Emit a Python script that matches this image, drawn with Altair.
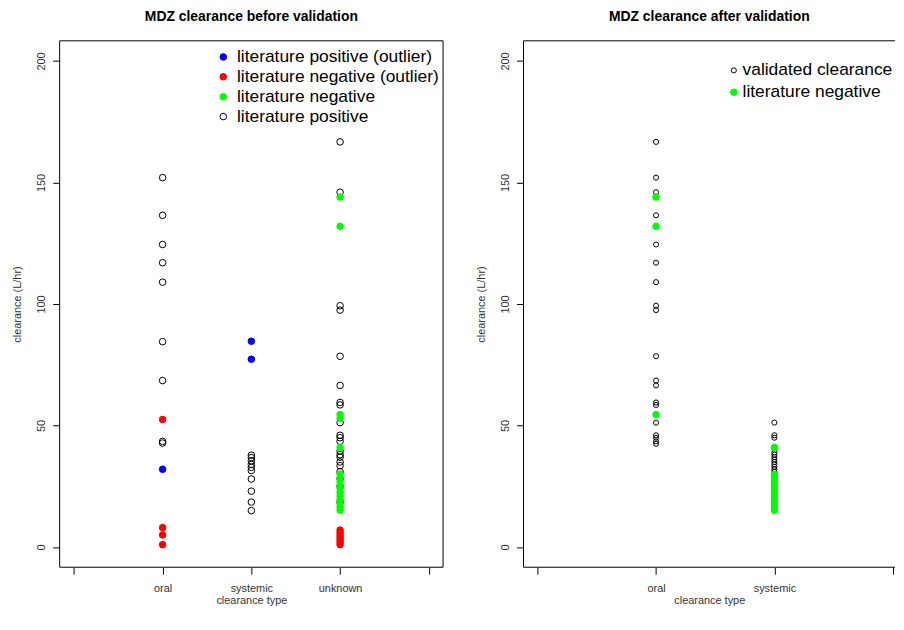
import altair as alt
import pandas as pd

FONT = "Liberation Sans"

# ---------------- data ----------------
left_categories = ["oral", "systemic", "unknown"]
right_categories = ["oral", "systemic"]

left_groups = ["literature positive (outlier)", "literature negative (outlier)",
               "literature negative", "literature positive"]
left_stroke = ["#0000FF", "#FF0000", "#00FF00", "#000000"]
left_fill = ["#0000FF", "#FF0000", "#00FF00", "transparent"]
left_size = [44, 44, 44, 26]

right_groups = ["validated clearance", "literature negative"]
right_stroke = ["#000000", "#00FF00"]
right_fill = ["transparent", "#00FF00"]
right_size = [26, 44]

# left panel (before validation)
left_oral_pos = [152, 136.5, 124.5, 117, 109, 84.5, 68.5, 43.5, 42.8]
left_oral_neg_out = [52.5, 8, 5, 1]
left_oral_pos_out = [32]
left_sys_pos_out = [84.7, 77.3]
left_sys_pos = [37.8, 36.8, 35.5, 34, 32.8, 31.5, 28, 23, 18.5, 15]
left_unk_pos = [166.7, 146, 99.3, 97.5, 78.5, 66.5, 59.5, 58.5, 51.2, 46, 45,
                43.5, 39.5, 38, 37, 35, 33.5, 31, 28.2, 25, 18.5]
left_unk_neg = [144, 132, 54.5, 53, 41, 30, 28.5, 27, 25.5, 24, 22.5, 21,
                19.5, 18, 16.5, 15.2]
left_unk_neg_out = [7, 6, 5, 4, 3, 2, 1]

# right panel (after validation)
right_oral_valid = [166.7, 152, 146, 136.5, 124.5, 117, 109, 99.3, 97.5, 78.5,
                    68.5, 66.5, 59.5, 58.5, 51.2, 46, 45, 43.5, 42.5]
right_oral_neg = [144, 132, 54.5]
right_sys_valid = [51.2, 46, 45, 40.5, 39, 38, 37, 36, 35, 34, 33, 32, 31,
                   29.5, 28, 25, 23, 18.5]
right_sys_neg = [41, 30, 28.5, 27, 25.5, 24, 22.5, 21, 19.5, 18, 16.5, 15.2]

y_ticks = [0, 50, 100, 150, 200]


def rows(cat_list, cat, group, values):
    pos = cat_list.index(cat) + 1
    return [{"pos": pos, "clearance": v, "group": group} for v in values]


left_rows = (
    rows(left_categories, "oral", left_groups[3], left_oral_pos)
    + rows(left_categories, "systemic", left_groups[3], left_sys_pos)
    + rows(left_categories, "unknown", left_groups[3], left_unk_pos)
    + rows(left_categories, "unknown", left_groups[2], left_unk_neg)
    + rows(left_categories, "oral", left_groups[1], left_oral_neg_out)
    + rows(left_categories, "unknown", left_groups[1], left_unk_neg_out)
    + rows(left_categories, "oral", left_groups[0], left_oral_pos_out)
    + rows(left_categories, "systemic", left_groups[0], left_sys_pos_out)
)
right_rows = (
    rows(right_categories, "oral", right_groups[0], right_oral_valid)
    + rows(right_categories, "systemic", right_groups[0], right_sys_valid)
    + rows(right_categories, "oral", right_groups[1], right_oral_neg)
    + rows(right_categories, "systemic", right_groups[1], right_sys_neg)
)
left_df = pd.DataFrame(left_rows)
right_df = pd.DataFrame(right_rows)

H = 530
W_LEFT = 386
PX_PER_UNIT_R = 386 / 3.24    # right panel scale (0..3 with 4% extension)
W_RIGHT = 374                 # right panel is cut by the page edge
Y_DOMAIN = [-8.3, 208.3]


def axes(n, cats, x_domain):
    label_expr = " : ".join(
        [f"datum.value == {i + 1} ? '{c}'" for i, c in enumerate(cats)]
    ) + " : ''"
    x = alt.X("pos:Q", scale=alt.Scale(domain=x_domain, nice=False, zero=False),
              axis=alt.Axis(values=list(range(n + 1)), labelExpr=label_expr,
                            title="clearance type", grid=False, domain=False,
                            tickColor="#000000", tickSize=7, labelPadding=8,
                            titleY=34, titleBaseline="middle",
                            labelFontSize=11, titleFontSize=11,
                            labelFont=FONT, titleFont=FONT, titleFontWeight="normal",
                            labelColor="#333333", titleColor="#333333"))
    y = alt.Y("clearance:Q", scale=alt.Scale(domain=Y_DOMAIN, nice=False, zero=False),
              axis=alt.Axis(values=y_ticks, title="clearance (L/hr)", grid=False,
                            domain=False, tickColor="#000000", tickSize=7,
                            labelAngle=270, labelAlign="center", labelBaseline="middle",
                            labelPadding=11, titleX=-42, titleY=H / 2,
                            titleAngle=270, titleAlign="center", titleBaseline="middle",
                            labelFontSize=11, titleFontSize=11, labelFont=FONT,
                            titleFont=FONT, titleFontWeight="normal",
                            labelColor="#333333", titleColor="#333333"))
    return x, y


def points(df, cats, groups, strokes, fills, sizes, x_domain, legend_x, legend_y,
           label_offset, row_padding):
    n = len(cats) + 1
    x, y = axes(n, cats, x_domain)
    legend = alt.Legend(
        title=None, orient="none", legendX=legend_x, legendY=legend_y,
        labelFontSize=17.5, labelFont=FONT, labelColor="#000000",
        symbolType="circle", symbolStrokeWidth=1, labelOffset=label_offset,
        rowPadding=row_padding, padding=0, labelLimit=400,
    )
    return alt.Chart(df).mark_point(shape="circle", strokeWidth=1, opacity=1).encode(
        x=x, y=y,
        stroke=alt.Stroke("group:N", scale=alt.Scale(domain=groups, range=strokes), legend=legend),
        fill=alt.Fill("group:N", scale=alt.Scale(domain=groups, range=fills), legend=legend),
        size=alt.Size("group:N", scale=alt.Scale(domain=groups, range=sizes), legend=legend),
    )


def frame_layers(x_domain, right_side):
    # plot box drawn from the scale domains (top, bottom, left, optionally right)
    h_df = pd.DataFrame({
        "x1": [x_domain[0], x_domain[0]],
        "x2": [x_domain[1], x_domain[1]],
        "y1": [Y_DOMAIN[1], Y_DOMAIN[0]],
    })
    v_x = [x_domain[0], x_domain[1]] if right_side else [x_domain[0]]
    v_df = pd.DataFrame({
        "x1": v_x,
        "y1": [Y_DOMAIN[0]] * len(v_x),
        "y2": [Y_DOMAIN[1]] * len(v_x),
    })
    h = alt.Chart(h_df).mark_rule(color="#000000", strokeWidth=1).encode(
        x="x1:Q", x2="x2:Q", y="y1:Q")
    v = alt.Chart(v_df).mark_rule(color="#000000", strokeWidth=1).encode(
        x="x1:Q", y="y1:Q", y2="y2:Q")
    return [h, v]


def title(text):
    return alt.TitleParams(text, fontSize=14, fontWeight="bold", font=FONT,
                           anchor="middle", frame="group", offset=16, color="#000000")


# left panel: full box
left_xdom = [-0.16, 4.16]
left_pts = points(left_df, left_categories, left_groups, left_stroke, left_fill, left_size,
                  left_xdom, 156, 7.5, 5, 1)
left = alt.layer(left_pts, *frame_layers(left_xdom, True)).properties(
    width=W_LEFT, height=H, title=title("MDZ clearance before validation"))

# right panel: box whose right side lies beyond the page edge
right_xdom = [-0.12, -0.12 + W_RIGHT / PX_PER_UNIT_R]
right_pts = points(right_df, right_categories, right_groups, right_stroke, right_fill,
                   right_size, right_xdom, 203, 21, 0, 3)
right = alt.layer(right_pts, *frame_layers(right_xdom, False)).properties(
    width=W_RIGHT, height=H, title=title("MDZ clearance after validation"))

chart = alt.hconcat(left, right, spacing=32).resolve_scale(
    stroke="independent", fill="independent", size="independent"
).resolve_legend(
    stroke="independent", fill="independent", size="independent"
).properties(
    padding={"left": 4, "top": 0, "right": 0, "bottom": 0}
).configure(background="white").configure_view(stroke="transparent", strokeWidth=0)

chart.save("out.html", embed_options={"renderer": "svg", "actions": False})
